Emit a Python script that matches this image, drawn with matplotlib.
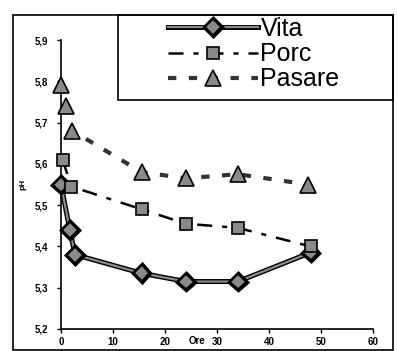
import numpy as np
import matplotlib
matplotlib.use("Agg")
import matplotlib.pyplot as plt
import matplotlib.patheffects as pe
from matplotlib.patches import Rectangle

plt.rcParams['font.family'] = ['Liberation Sans', 'DejaVu Sans']

# Data (hours vs pH)
ore_vita = [0, 1.7, 2.7, 15.5, 24, 34, 48]
ph_vita = [5.55, 5.44, 5.38, 5.335, 5.315, 5.315, 5.385]

ore_porc = [0.3, 2, 15.5, 24, 34, 48]
ph_porc = [5.61, 5.545, 5.49, 5.455, 5.445, 5.40]

ore_pasare = [0, 1, 2.2, 15.5, 24, 34, 47.5]
ph_pasare = [5.79, 5.74, 5.68, 5.58, 5.565, 5.575, 5.55]

xticks = [0, 10, 20, 30, 40, 50, 60]
yticks = [5.2, 5.3, 5.4, 5.5, 5.6, 5.7, 5.8, 5.9]

W, H = 398, 351
fig = plt.figure(figsize=(W / 100, H / 100), dpi=100)
ax = fig.add_axes([61 / W, 1 - 329 / H, 312 / W, 289 / H])

fill = '#8a8a8a'
outline = [pe.Stroke(linewidth=3.6, foreground='black'), pe.Normal()]

l1, = ax.plot(ore_vita, ph_vita, color=fill, lw=1.6, marker='D', ms=8,
              mfc=fill, mec='black', mew=1.2, clip_on=False, zorder=3,
              path_effects=outline)
l2, = ax.plot(ore_porc, ph_porc, color='black', lw=1.8, ls=(0, (6, 4, 2, 4)),
              marker='s', ms=9, mfc=fill, mec='black', mew=1.2,
              clip_on=False, zorder=3)
l3, = ax.plot(ore_pasare, ph_pasare, color='#333333', lw=3, ls=(0, (2, 3)),
              marker='^', ms=11, mfc=fill, mec='black', mew=1.2,
              clip_on=False, zorder=3)

ax.set_xlim(0, 60)
ax.set_ylim(5.2, 5.9)
ax.set_xticks(xticks)
ax.set_yticks(yticks)
ax.set_xticklabels([str(t) for t in xticks], fontsize=7, fontweight='bold')
ax.set_yticklabels([f"{t:.1f}".replace('.', ',') for t in yticks],
                   fontsize=7, fontweight='bold')
ax.tick_params(axis='y', direction='out', length=3, width=1, pad=6)
ax.tick_params(axis='x', direction='out', length=3, width=1, pad=3)
for s in ['top', 'right']:
    ax.spines[s].set_visible(False)
for s in ['left', 'bottom']:
    ax.spines[s].set_linewidth(1.2)

ax.set_ylabel('pH', fontsize=6, fontweight='bold')
ax.yaxis.set_label_coords(-0.11, 0.5)
ax.text(0.436, -0.042, 'Ore', transform=ax.transAxes, fontsize=7,
        fontweight='bold', ha='center', va='center')

# outer frame and legend box
fig.patches.append(Rectangle((13 / W, 1 / H), 380 / W, 335 / H, transform=fig.transFigure,
                             fill=False, edgecolor='black', lw=1.2))
fig.patches.append(Rectangle((118 / W, 1 - 100 / H), 275 / W, 85 / H,
                             transform=fig.transFigure, fill=False,
                             edgecolor='black', lw=1.2))

fig.legend([l1, l2, l3], ['Vita', 'Porc', 'Pasare'], loc='upper left',
           bbox_to_anchor=(168 / W, 1 - 17 / H), frameon=False, fontsize=18,
           handlelength=3.6, handletextpad=0.1, labelspacing=0.05,
           borderpad=0, borderaxespad=0)

fig.savefig('out.png', dpi=100)
